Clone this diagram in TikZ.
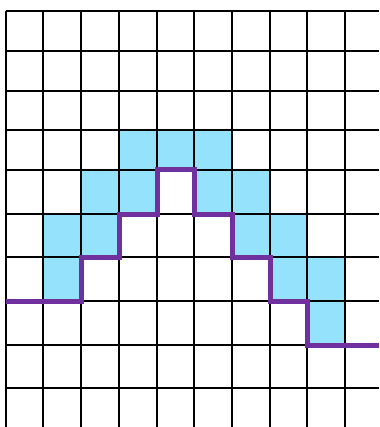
\documentclass[tikz,border=0pt]{standalone}
\usepackage{xcolor}
\usepackage{tikz}

\definecolor{cellblue}{RGB}{148,226,252}
\definecolor{walkpurple}{RGB}{112,48,160}

\begin{document}
\begin{tikzpicture}[
  x=1pt, y=-1pt,
  gridline/.style={draw=black, line width=2pt},
  cell/.style={fill=cellblue},
  walk/.style={draw=walkpurple, line width=5pt}
]
  \useasboundingbox (0,0) rectangle (379,427);

  % shaded cells
  \fill[cell] (119,130) rectangle (232,170);
  \fill[cell] (81,170)  rectangle (157,214);
  \fill[cell] (194,170) rectangle (270,214);
  \fill[cell] (43,214)  rectangle (119,257);
  \fill[cell] (232,214) rectangle (307,257);
  \fill[cell] (43,257)  rectangle (81,301);
  \fill[cell] (270,257) rectangle (345,301);
  \fill[cell] (307,301) rectangle (345,345);

  % grid
  \foreach \x in {6,43,81,119,157,194,232,270,307,345}
    \draw[gridline] (\x,11) -- (\x,427);
  \foreach \y in {11,51,91,130,170,214,257,301,345,388}
    \draw[gridline] (6,\y) -- (379,\y);

  % staircase
  \draw[walk] (6,301) -- (81,301) -- (81,257) -- (119,257) -- (119,214)
              -- (157,214) -- (157,170) -- (194,170) -- (194,214)
              -- (232,214) -- (232,257) -- (270,257) -- (270,301)
              -- (307,301) -- (307,345) -- (379,345);
\end{tikzpicture}
\end{document}
